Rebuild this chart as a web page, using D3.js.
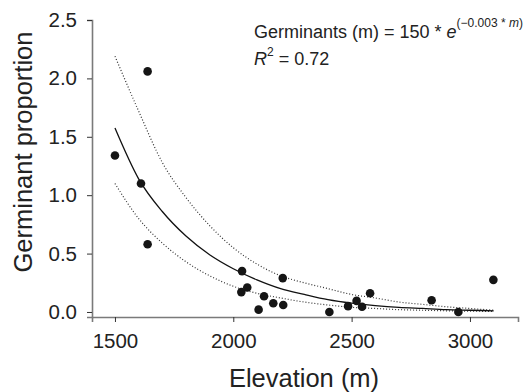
<!DOCTYPE html>
<html>
<head>
<meta charset="utf-8">
<script src="https://cdn.jsdelivr.net/npm/d3@7"></script>
<style>
    body { margin: 0; background: #fff; }
    svg { display: block; font-family: "Liberation Sans", Arial, sans-serif; }
</style>
</head>
<body>
<div id="chart"></div>
<script>

// Observed points (elevation in m, germinant proportion)
const elevation  = [1500, 1610, 1638, 1638, 2034, 2037, 2059, 2107, 2130, 2169,
                    2209, 2211, 2406, 2485, 2521, 2544, 2578, 2838, 2951, 3099];
const proportion = [1.34, 1.10, 2.06, 0.58, 0.17, 0.35, 0.21, 0.02, 0.135, 0.075,
                    0.29, 0.06, 0.00, 0.05, 0.095, 0.045, 0.16, 0.10, 0.00, 0.275];

// Fitted curve and confidence band
const fitX     = [1500, 1600, 1700, 1800, 1900, 2000, 2100, 2200, 2300, 2400, 2500,
                  2600, 2700, 2800, 2900, 3000, 3100];
const fitY     = [1.575, 1.14, 0.86, 0.65, 0.49, 0.37, 0.275, 0.20, 0.15, 0.105, 0.075,
                  0.055, 0.04, 0.03, 0.02, 0.015, 0.01];
const upperY   = [2.19, 1.72, 1.28, 0.98, 0.74, 0.55, 0.41, 0.31, 0.25, 0.20, 0.15,
                  0.12, 0.085, 0.065, 0.045, 0.03, 0.015];
const lowerY   = [1.10, 0.80, 0.59, 0.43, 0.31, 0.22, 0.16, 0.12, 0.085, 0.06, 0.04,
                  0.03, 0.02, 0.015, 0.01, 0.007, 0.005];

const xTicks = [1500, 2000, 2500, 3000];
const yTicks = [0, 0.5, 1.0, 1.5, 2.0, 2.5];
const xDomain = [1403, 3203];
const yDomain = [-0.043, 2.5];

const width = 531, height = 392;
const margin = {top: 20, right: 13, bottom: 75, left: 92};

const svg = d3.select("#chart").append("svg")
    .attr("width", width)
    .attr("height", height);

const x = d3.scaleLinear().domain(xDomain).range([margin.left, width - margin.right]);
const y = d3.scaleLinear().domain(yDomain).range([height - margin.bottom, margin.top]);

// Axes
const xAxis = svg.append("g")
    .attr("transform", "translate(0," + (height - margin.bottom) + ")")
    .call(d3.axisBottom(x).tickValues(xTicks).tickSize(5).tickPadding(11)
          .tickFormat(d3.format("d")));
const yAxis = svg.append("g")
    .attr("transform", "translate(" + margin.left + ",0)")
    .call(d3.axisLeft(y).tickValues(yTicks).tickSize(5).tickPadding(10)
          .tickFormat(d3.format(".1f")));

[xAxis, yAxis].forEach(function(g) {
    g.select(".domain").attr("stroke", "#7a7a7a").attr("stroke-width", 1.6);
    g.selectAll(".tick line").attr("stroke", "#333");
    g.selectAll(".tick text").attr("fill", "#222").style("font-size", "20.5px");
});

// Axis titles
svg.append("text")
    .attr("x", 304).attr("y", 387)
    .attr("text-anchor", "middle")
    .attr("fill", "#222")
    .style("font-size", "25.5px")
    .text("Elevation (m)");

svg.append("text")
    .attr("transform", "translate(32,152) rotate(-90)")
    .attr("text-anchor", "middle")
    .attr("fill", "#222")
    .style("font-size", "25.5px")
    .text("Germinant proportion");

// Curves
const line = function(ys) {
    return d3.line()
        .x((d, i) => x(fitX[i]))
        .y(d => y(d))
        .curve(d3.curveMonotoneX)(ys);
};

svg.append("path")
    .attr("d", line(upperY))
    .attr("fill", "none")
    .attr("stroke", "#333")
    .attr("stroke-width", 1.2)
    .attr("stroke-dasharray", "1,2");

svg.append("path")
    .attr("d", line(lowerY))
    .attr("fill", "none")
    .attr("stroke", "#333")
    .attr("stroke-width", 1.2)
    .attr("stroke-dasharray", "1,2");

svg.append("path")
    .attr("d", line(fitY))
    .attr("fill", "none")
    .attr("stroke", "#111")
    .attr("stroke-width", 1.3);

// Points
svg.append("g").selectAll("circle")
    .data(elevation)
    .join("circle")
        .attr("cx", d => x(d))
        .attr("cy", (d, i) => y(proportion[i]))
        .attr("r", 4.3)
        .attr("fill", "#151515");

// Equation annotation
const eq = svg.append("text")
    .attr("x", 254).attr("y", 38)
    .attr("fill", "#222")
    .style("font-size", "18px");
eq.append("tspan").text("Germinants (m) = 150 * ");
eq.append("tspan").style("font-style", "italic").text("e");
eq.append("tspan").attr("dy", -11).style("font-size", "12px").text("(\u22120.003 * ");
eq.append("tspan").style("font-size", "12px").style("font-style", "italic").text("m");
eq.append("tspan").style("font-size", "12px").text(")");

const r2 = svg.append("text")
    .attr("x", 254).attr("y", 65)
    .attr("fill", "#222")
    .style("font-size", "18px");
r2.append("tspan").style("font-style", "italic").text("R");
r2.append("tspan").attr("dy", -9).style("font-size", "12px").text("2");
r2.append("tspan").attr("dy", 9).text(" = 0.72");

</script>
</body>
</html>
